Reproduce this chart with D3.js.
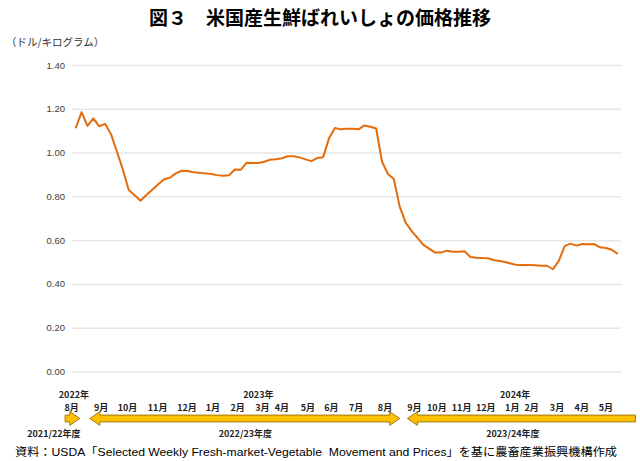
<!DOCTYPE html>
<html><head><meta charset="utf-8">
<script src="https://cdn.jsdelivr.net/npm/d3@7"></script>
<style>
html,body{margin:0;padding:0;background:#fff;}
svg{display:block;}
</style></head>
<body>
<svg id="chart" width="640" height="461"></svg>
<script>
// ---- data (weekly price, USD/kg, Aug 2022 – May 2024) ----
const prices = [
  1.111,1.185,1.122,1.156,1.120,1.131,1.084,1.004,0.923,0.829,
  0.805,0.780,0.806,0.830,0.855,0.878,0.885,0.905,0.917,0.916,
  0.910,0.908,0.905,0.902,0.897,0.894,0.896,0.923,0.921,0.953,
  0.952,0.952,0.958,0.967,0.970,0.974,0.983,0.983,0.978,0.969,
  0.961,0.975,0.979,1.065,1.112,1.106,1.109,1.109,1.106,1.124,
  1.118,1.110,0.958,0.902,0.879,0.753,0.680,0.642,0.611,0.578,
  0.561,0.543,0.543,0.552,0.547,0.547,0.549,0.523,0.520,0.518,
  0.517,0.508,0.505,0.499,0.492,0.486,0.486,0.486,0.485,0.483,
  0.483,0.467,0.505,0.573,0.584,0.575,0.582,0.581,0.582,0.567,
  0.564,0.556,0.537
];
const yTicks = [0, 0.2, 0.4, 0.6, 0.8, 1.0, 1.2, 1.4];
// month labels with their position in week-index units
const monthLabels = ["8月","9月","10月","11月","12月","1月","2月","3月","4月","5月","6月","7月","8月",
                     "9月","10月","11月","12月","1月","2月","3月","4月","5月"];
const monthPos = [-0.7,4.3,8.8,13.9,18.9,23.3,27.5,31.7,35.0,39.4,43.4,47.6,52.5,
                  57.5,61.3,65.5,69.6,74.1,77.4,81.7,85.9,90.0];
const yearLabels = ["2022年","2023年","2024年"];
const yearPos = [-0.3,31.0,74.6];
const fyLabels = ["2021/22年度","2022/23年度","2023/24年度"];
const fyFrom = [-1.8, 2.4, 56.3];
const fyTo = [0.7, 55.0, 95.0];
const fyHeads = [["right"],["left","right"],["left"]];
const fyLabelPos = [-3.7, 28.8, 74.2];

const title = "図３　米国産生鮮ばれいしょの価格推移";
const unitLabel = "（ドル/キログラム）";
const source = "資料：USDA「Selected Weekly Fresh-market-Vegetable\u00a0\u00a0Movement and Prices」を基に農畜産業振興機構作成";

// ---- drawing ----
const svg = d3.select("#chart");
const x = d3.scaleLinear().domain([0, prices.length - 1]).range([75.7, 617.7]);
const y = d3.scaleLinear().domain([0, 1.4]).range([371.5, 65]);
const jp = "'Noto Sans CJK JP', sans-serif";
const lat = "'Liberation Sans', Arial, 'Noto Sans CJK JP', sans-serif";

svg.append("text").attr("x", 320).attr("y", 25).attr("text-anchor", "middle")
  .attr("font-family", jp).attr("font-weight", "bold").attr("font-size", 19)
  .attr("fill", "#000").text(title);

svg.append("text").attr("x", 6).attr("y", 46)
  .attr("font-family", jp).attr("font-size", 10.5).attr("fill", "#333").text(unitLabel);

// gridlines + y axis
const yAxis = d3.axisLeft(y).tickValues(yTicks).tickFormat(d3.format(".2f"))
  .tickSize(-(621 - 72)).tickPadding(7);
const gy = svg.append("g").attr("transform", "translate(72,0)").call(yAxis);
gy.select(".domain").remove();
gy.selectAll(".tick line").attr("stroke", "#e6e6e6").attr("stroke-width", 1.5);
gy.selectAll(".tick text").attr("font-family", lat).attr("font-size", 9.5).attr("fill", "#404040");

// line
svg.append("path").datum(prices)
  .attr("fill", "none").attr("stroke", "#E46C0A").attr("stroke-width", 2)
  .attr("stroke-linejoin", "round")
  .attr("d", d3.line().x((d, i) => x(i)).y(d => y(d)));

// year labels
svg.append("g").selectAll("text").data(yearLabels).join("text")
  .attr("x", (d, i) => x(yearPos[i])).attr("y", 398).attr("text-anchor", "middle")
  .attr("font-family", jp).attr("font-size", 9).attr("font-weight", "bold").attr("fill", "#222")
  .text(d => d);

// month labels
svg.append("g").selectAll("text").data(monthLabels).join("text")
  .attr("x", (d, i) => x(monthPos[i])).attr("y", 411).attr("text-anchor", "middle")
  .attr("font-family", jp).attr("font-size", 9).attr("font-weight", "bold").attr("fill", "#222")
  .text(d => d);

// fiscal-year arrows
const cy = 418.5, bh = 3.4, hh = 6.8, hl = 10;
function arrowPath(x0, x1, heads) {
  const L = heads.includes("left"), R = heads.includes("right");
  const p = d3.path();
  const a = L ? x0 + hl : x0, b = R ? x1 - hl : x1;
  p.moveTo(a, cy - bh);
  p.lineTo(b, cy - bh);
  if (R) { p.lineTo(b, cy - hh); p.lineTo(x1, cy); p.lineTo(b, cy + hh); }
  p.lineTo(b, cy + bh);
  p.lineTo(a, cy + bh);
  if (L) { p.lineTo(a, cy + hh); p.lineTo(x0, cy); p.lineTo(a, cy - hh); }
  p.closePath();
  return p.toString();
}
svg.append("g").selectAll("path").data(fyLabels).join("path")
  .attr("d", (d, i) => arrowPath(x(fyFrom[i]), x(fyTo[i]), fyHeads[i]))
  .attr("fill", "#FFC000").attr("stroke", "#A07810").attr("stroke-width", 1);

svg.append("g").selectAll("text").data(fyLabels).join("text")
  .attr("x", (d, i) => x(fyLabelPos[i])).attr("y", 437).attr("text-anchor", "middle")
  .attr("font-family", jp).attr("font-size", 9).attr("font-weight", "bold").attr("fill", "#222")
  .text(d => d);

svg.append("text").attr("x", 15).attr("y", 456)
  .attr("font-family", lat).attr("font-size", 11.5).attr("fill", "#000")
  .attr("textLength", 602).attr("lengthAdjust", "spacingAndGlyphs")
  .text(source);
</script>
</body></html>
